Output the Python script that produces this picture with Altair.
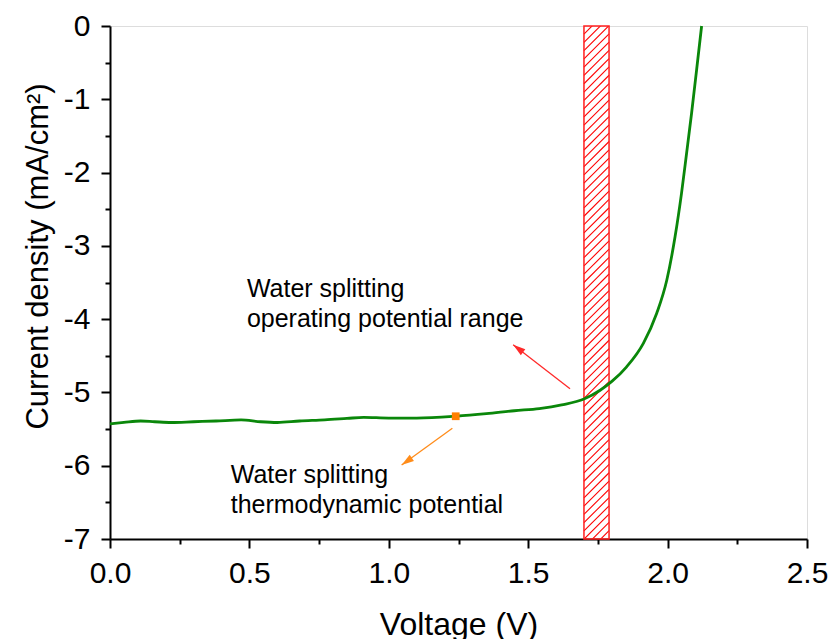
import altair as alt
import pandas as pd

# J-V curve (Voltage in V, current density in mA/cm2)
voltage = [0.00, 0.05, 0.11, 0.16, 0.22, 0.30, 0.38, 0.47, 0.54, 0.60, 0.68, 0.77,
           0.85, 0.91, 1.00, 1.10, 1.24, 1.35, 1.45, 1.54, 1.62, 1.70, 1.758, 1.800,
           1.853, 1.913, 1.961, 1.997, 2.027, 2.050, 2.068, 2.086, 2.104, 2.122]
current = [-5.43, -5.41, -5.39, -5.40, -5.41, -5.40, -5.39, -5.375, -5.40, -5.41, -5.39, -5.375,
           -5.355, -5.34, -5.35, -5.35, -5.325, -5.29, -5.25, -5.22, -5.17, -5.09, -4.97, -4.85,
           -4.65, -4.33, -3.92, -3.47, -2.87, -2.28, -1.74, -1.19, -0.60, 0.0]

# thermodynamic potential marker
marker_v = [1.24]
marker_j = [-5.325]

# operating potential band
band_lo = [1.70]
band_hi = [1.79]

# annotation arrows (tail -> tip)
arrow_x = [1.650, 1.228]
arrow_y = [-4.95, -5.49]
arrow_x2 = [1.446, 1.046]
arrow_y2 = [-4.35, -5.99]
arrow_color = ["#ff2a2a", "#ff8c1a"]
arrow_angle = [307, 235]

# annotation texts
label_x = [0.491, 0.433]
label_y = [-3.693, -6.235]
label_text = [["Water splitting", "operating potential range"],
              ["Water splitting", "thermodynamic potential"]]

x_major = [0.0, 0.5, 1.0, 1.5, 2.0, 2.5]
x_minor = [0.25, 0.75, 1.25, 1.75, 2.25]
y_major = [-7, -6, -5, -4, -3, -2, -1, 0]
y_minor = [-6.5, -5.5, -4.5, -3.5, -2.5, -1.5, -0.5]

FONT = "Liberation Sans"

curve = pd.DataFrame({"V": voltage, "J": current})
marker = pd.DataFrame({"V": marker_v, "J": marker_j})
band = pd.DataFrame({"lo": band_lo, "hi": band_hi, "bottom": [-7], "top": [0]})
arrows = pd.DataFrame({"x": arrow_x, "y": arrow_y, "x2": arrow_x2, "y2": arrow_y2,
                       "c": arrow_color, "a": arrow_angle})
labels = pd.DataFrame({"x": label_x, "y": label_y, "t": label_text})

xscale = alt.Scale(domain=[0, 2.5], nice=False, zero=False)
yscale = alt.Scale(domain=[-7, 0], nice=False, zero=False)

xaxis = alt.Axis(
    orient="bottom", values=x_major, grid=False, labelOverlap=False, labelFlush=False,
    labelBound=False, format=".1f",
    tickSize=9, tickWidth=2, tickColor="black", domainColor="black", domainWidth=2,
    labelFontSize=30, labelPadding=10, labelColor="black", labelFont=FONT,
    title="Voltage (V)", titleFontSize=32, titleFont=FONT, titleFontWeight="normal",
    titleBaseline="alphabetic", titleY=95, titleColor="black",
)
yaxis = alt.Axis(
    orient="left", values=y_major, grid=False, labelOverlap=False, labelFlush=False,
    labelBound=False, labelExpr="'' + datum.value",
    tickSize=9, tickWidth=2, tickColor="black", domainColor="black", domainWidth=2,
    labelFontSize=30, labelPadding=11, labelColor="black", labelFont=FONT,
    title="Current density (mA/cm²)", titleFontSize=31, titleFont=FONT,
    titleFontWeight="normal", titleAngle=270, titleBaseline="alphabetic",
    titleAlign="center", titleX=-63, titleY=230, titleColor="black",
)
xaxis_minor = alt.Axis(
    orient="bottom", values=x_minor, grid=False, labels=False, domain=False,
    tickSize=5, tickWidth=2, tickColor="black", title=None,
)
yaxis_minor = alt.Axis(
    orient="left", values=y_minor, grid=False, labels=False, domain=False,
    tickSize=5, tickWidth=2, tickColor="black", title=None,
)

# hatch lines filling the band (45 degree stripes), clipped to the plot
dy_hatch = 0.342
hatch = (
    alt.Chart(alt.sequence(0, 68, as_="k"))
    .transform_calculate(
        y0=f"-7 - {dy_hatch} + datum.k * 0.113",
        y1=f"-7 + datum.k * 0.113",
        x0=f"{band_lo[0]}",
        x1=f"{band_hi[0]}",
    )
    .mark_rule(color="#ff0000", strokeWidth=1.1, clip=True)
    .encode(
        x=alt.X("x0:Q", scale=xscale, axis=xaxis),
        x2="x1:Q",
        y=alt.Y("y0:Q", scale=yscale, axis=yaxis),
        y2="y1:Q",
    )
)

minor = (
    alt.Chart(marker)
    .mark_point(opacity=0)
    .encode(x=alt.X("V:Q", scale=xscale, axis=xaxis_minor),
            y=alt.Y("J:Q", scale=yscale, axis=yaxis_minor))
)

band_rect = (
    alt.Chart(band)
    .mark_rect(filled=False, fill="transparent", stroke="#ff2020", strokeWidth=1.5)
    .encode(x=alt.X("lo:Q", scale=xscale, axis=None), x2="hi:Q",
            y=alt.Y("bottom:Q", scale=yscale, axis=None), y2="top:Q")
)

line = (
    alt.Chart(curve)
    .mark_line(color="#0a870a", strokeWidth=2.8, interpolate="monotone")
    .encode(x=alt.X("V:Q", scale=xscale, axis=None), y=alt.Y("J:Q", scale=yscale, axis=None))
)

pt = (
    alt.Chart(marker)
    .mark_point(shape="square", filled=True, size=60, color="#ff8000", opacity=1)
    .encode(x=alt.X("V:Q", scale=xscale, axis=None), y=alt.Y("J:Q", scale=yscale, axis=None))
)

arrow_lines = (
    alt.Chart(arrows)
    .mark_rule(strokeWidth=1.3)
    .encode(x=alt.X("x:Q", scale=xscale, axis=None), x2="x2:Q",
            y=alt.Y("y:Q", scale=yscale, axis=None), y2="y2:Q",
            color=alt.Color("c:N", scale=None))
)

arrow_heads = (
    alt.Chart(arrows)
    .mark_point(shape="M0,0L-0.3,1L0.3,1Z", filled=True, size=620, opacity=1, strokeWidth=0)
    .encode(x=alt.X("x2:Q", scale=xscale, axis=None), y=alt.Y("y2:Q", scale=yscale, axis=None),
            color=alt.Color("c:N", scale=None), angle=alt.Angle("a:Q", scale=None))
)

texts = (
    alt.Chart(labels)
    .mark_text(align="left", baseline="alphabetic", fontSize=25, font=FONT,
               color="black", lineHeight=30)
    .encode(x=alt.X("x:Q", scale=xscale, axis=None), y=alt.Y("y:Q", scale=yscale, axis=None),
            text="t")
)

chart = (
    alt.layer(hatch, minor, band_rect, line, pt, arrow_lines, arrow_heads, texts)
    .resolve_axis(x="independent", y="independent")
    .properties(
        width=697, height=513,
        autosize=alt.AutoSizeParams(type="none"),
        padding={"left": 110, "top": 26, "right": 24, "bottom": 100},
    )
    .configure_view(stroke="black", strokeWidth=2)
    .configure(background="white")
)

chart.save("out.html", embed_options={"renderer": "svg", "actions": False})
